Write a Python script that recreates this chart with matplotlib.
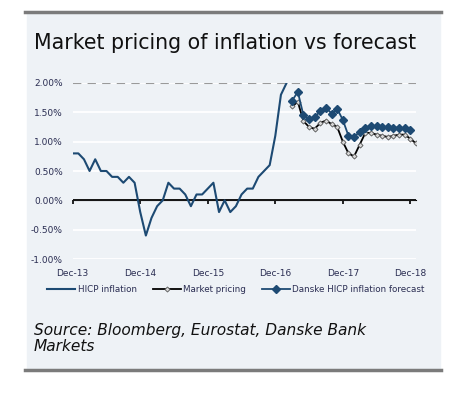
import matplotlib
matplotlib.use("Agg")
import matplotlib.pyplot as plt
from matplotlib.patches import Rectangle
from matplotlib.lines import Line2D

# months counted from Dec-13 (= 0)
hicp = [0.8, 0.8, 0.7, 0.5, 0.7, 0.5, 0.5, 0.4, 0.4, 0.3, 0.4, 0.3,
        -0.2, -0.6, -0.3, -0.1, 0.0, 0.3, 0.2, 0.2, 0.1, -0.1, 0.1, 0.1,
        0.2, 0.3, -0.2, 0.0, -0.2, -0.1, 0.1, 0.2, 0.2, 0.4, 0.5, 0.6,
        1.1, 1.8, 2.0]
market = [1.60, 1.68, 1.35, 1.25, 1.22, 1.32, 1.36, 1.30, 1.25, 1.00,
          0.80, 0.75, 0.95, 1.15, 1.15, 1.12, 1.10, 1.08, 1.10, 1.12,
          1.12, 1.05, 0.97]
danske = [1.70, 1.85, 1.45, 1.38, 1.42, 1.52, 1.58, 1.48, 1.56, 1.37,
          1.10, 1.08, 1.17, 1.24, 1.27, 1.27, 1.25, 1.25, 1.24, 1.24,
          1.23, 1.20]
hicp_x = list(range(len(hicp)))
fc_start = 39  # Mar-17
market_x = list(range(fc_start, fc_start + len(market)))
danske_x = list(range(fc_start, fc_start + len(danske)))

xticks = [0, 12, 24, 36, 48, 60]
xlabels = ["Dec-13", "Dec-14", "Dec-15", "Dec-16", "Dec-17", "Dec-18"]
yticks = [-1.0, -0.5, 0.0, 0.5, 1.0, 1.5, 2.0]

BLUE = "#1d4a73"
TXT = "#2a2d52"
BG = "#eef2f6"

W, H = 450, 395
fig = plt.figure(figsize=(W / 100, H / 100), dpi=100)

# panel background and frame bars
fig.patches.append(Rectangle((27 / W, 1 - 370 / H), 413 / W, 358 / H,
                             transform=fig.transFigure, color=BG, zorder=-10))
for yp in (12, 370):
    fig.lines.append(Line2D([25 / W, 441 / W], [1 - yp / H, 1 - yp / H],
                            transform=fig.transFigure, color="#7b7b7b", lw=2.5))

fig.text(34 / W, 1 - 49 / H, "Market pricing of inflation vs forecast",
         fontsize=14.8, color="#111111", va="baseline")

ax = fig.add_axes([72.7 / W, 1 - 259 / H, 343.3 / W, 176 / H])
ax.patch.set_alpha(0)
for s in ax.spines.values():
    s.set_visible(False)
ax.set_xlim(0, 61)
ax.set_ylim(-1.0, 2.0)
ax.set_yticks(yticks)
ax.set_yticklabels([f"{v:.2f}%" for v in yticks])
ax.set_xticks(xticks)
ax.set_xticklabels(xlabels)
ax.tick_params(axis="both", length=0, labelsize=6.5, labelcolor=TXT)
ax.tick_params(axis="y", pad=7)
ax.tick_params(axis="x", pad=7)
ax.yaxis.grid(True, color="white", lw=1.3)
ax.set_axisbelow(True)
ax.axhline(2.0, color="#9a9a9a", lw=1.5, ls=(0, (4, 3)), zorder=2)
ax.axhline(0.0, color="black", lw=1.3, zorder=2)

zero = ax.secondary_xaxis(1 / 3)
zero.set_xticks(xticks)
zero.set_xticklabels([])
zero.tick_params(direction="out", length=3, width=1.2, color="black")

ax.plot(hicp_x, hicp, color=BLUE, lw=1.5, label="HICP inflation", zorder=3)
ax.plot(market_x, market, color="black", lw=1.3, marker="D", ms=2.6,
        mfc="#d8d8d8", mec="#555555", mew=0.6, label="Market pricing", zorder=4)
ax.plot(danske_x, danske, color=BLUE, lw=1.3, marker="D", ms=3.8,
        mfc=BLUE, mec=BLUE, label="Danske HICP inflation forecast", zorder=5)

fig.legend(loc="center", bbox_to_anchor=(236 / W, 1 - 290 / H), ncol=3,
           frameon=False, fontsize=6.3, handlelength=3.2, handletextpad=0.3,
           columnspacing=1.8, labelcolor=TXT)

fig.text(34 / W, 1 - 335 / H, "Source: Bloomberg, Eurostat, Danske Bank",
         fontsize=11.1, style="italic", color="#111111", va="baseline")
fig.text(34 / W, 1 - 351 / H, "Markets",
         fontsize=11.1, style="italic", color="#111111", va="baseline")

fig.savefig("out.png", dpi=100)
